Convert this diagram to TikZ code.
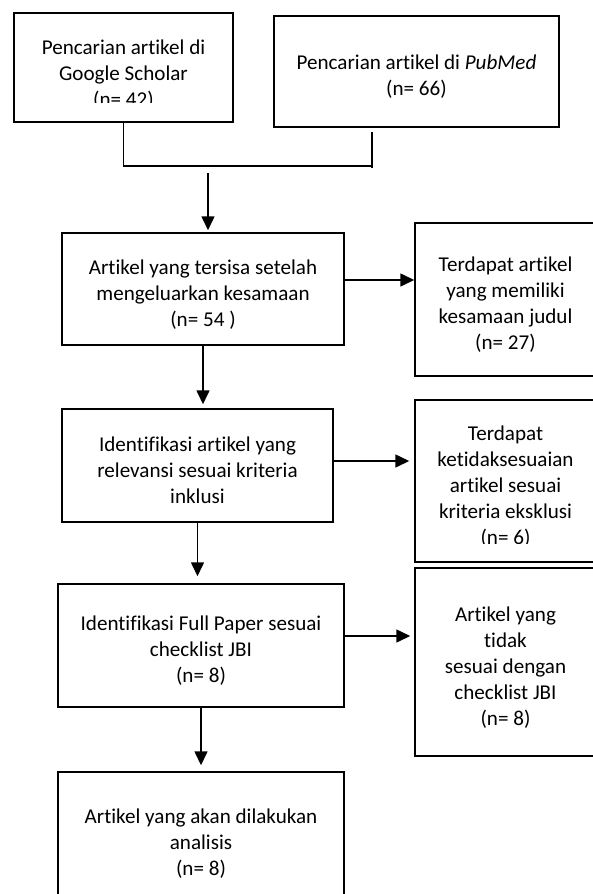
\documentclass[tikz,border=0pt]{standalone}
\usepackage{fontspec}
\setmainfont{Carlito}[Ligatures=NoCommon]
\usetikzlibrary{arrows.meta}
\newcommand{\topgap}{\rule{0pt}{25pt}}

\begin{document}
\begin{tikzpicture}[x=1pt,y=-1pt,
    font=\fontsize{21.1}{26}\selectfont,
    box/.style={draw,line width=1.5pt,align=center,inner sep=0pt},
    txt/.style={align=center,inner sep=0pt},
    arr/.style={-{Triangle[length=14pt,width=13pt]},line width=1.6pt}]
  \path[use as bounding box,clip] (0,0) rectangle (593,894);
  % search boxes
  \node[box,minimum width=219pt,minimum height=109pt] (gscholar) at (123.5,67.5) {};
  \begin{scope}
    \clip (14,13) rectangle (233,102);
    \node[txt] (gscholartext) at (123.5,75) {Pencarian artikel di\\Google Scholar\\(n= 42)};
  \end{scope}
  \node[box,minimum width=285pt,minimum height=111pt] (pubmed) at (416.5,71.5)
    {\topgap Pencarian artikel di \textit{PubMed}\\(n= 66)};
  % main column
  \node[box,minimum width=282pt,minimum height=112pt] (dedup) at (203,289)
    {\topgap Artikel yang tersisa setelah\\mengeluarkan kesamaan\\(n= 54 )};
  \node[box,minimum width=271pt,minimum height=113pt] (inkl) at (197.5,465.5)
    {\topgap Identifikasi artikel yang\\relevansi sesuai kriteria\\inklusi};
  \node[box,minimum width=286pt,minimum height=123pt] (fullp) at (201,645.5)
    {\topgap Identifikasi Full Paper sesuai\\checklist JBI\\(n= 8)};
  \node[box,minimum width=286pt,minimum height=133pt] (analisis) at (201,838.5)
    {\topgap Artikel yang akan dilakukan\\analisis\\(n= 8)};
  % excluded column
  \node[box,minimum width=181pt,minimum height=153pt] (dupl) at (505.5,299.5)
    {\topgap Terdapat artikel\\yang memiliki\\kesamaan judul\\(n= 27)};
  \node[box,minimum width=181pt,minimum height=162pt] (ekskl) at (505.5,481) {};
  \begin{scope}
    \clip (415,400) rectangle (596,543);
    \node[txt] (eksklText) at (505.5,487)
      {Terdapat\\ketidaksesuaian\\artikel sesuai\\kriteria eksklusi\\(n= 6)};
  \end{scope}
  \node[box,minimum width=181pt,minimum height=188pt] (tdkjbi) at (505.5,662)
    {\topgap Artikel yang\\tidak\\sesuai dengan\\checklist JBI\\(n= 8)};
  % connectors
  \coordinate (joinR) at (372,166);
  \coordinate (merge) at (208,173);
  \begin{scope}[line width=1.6pt]
    \draw (gscholar.south) |- (joinR);
    \draw[shorten <=4pt] (pubmed.south -| joinR) -- ([yshift=-2pt]joinR);
    \draw[arr,shorten >=2pt] (merge) -- (merge |- dedup.north);
    \draw[arr,shorten >=4pt] (dedup.south) -- (dedup.south |- inkl.north);
    \draw[arr,shorten >=7pt] (inkl.south) -- (inkl.south |- fullp.north);
    \draw[arr,shorten >=6pt] (fullp.south) -- (fullp.south |- analisis.north);
    \draw[arr] ([shift={(0,-9)}]dedup.east) coordinate (a1) -- (a1 -| dupl.west);
    \draw[arr,shorten >=5pt] ([shift={(0,-4.5)}]inkl.east) coordinate (a2) -- (a2 -| ekskl.west);
    \draw[arr,shorten >=4pt] ([shift={(0,-9.5)}]fullp.east) coordinate (a3) -- (a3 -| tdkjbi.west);
  \end{scope}
\end{tikzpicture}
\end{document}
